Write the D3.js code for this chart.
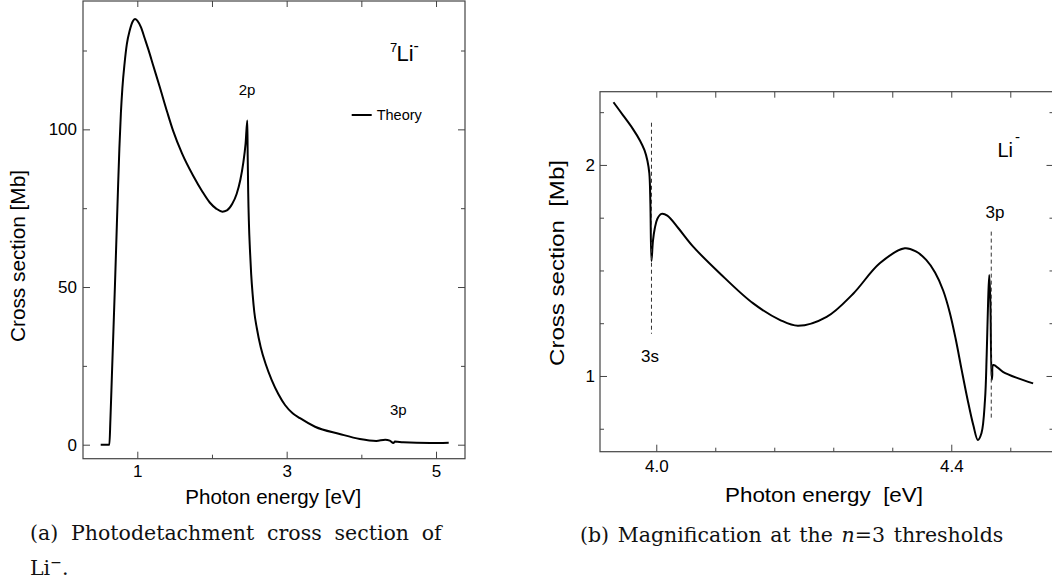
<!DOCTYPE html>
<html>
<head>
<meta charset="utf-8">
<script src="https://cdn.jsdelivr.net/npm/d3@7"></script>
<style>
  body { margin: 0; background: #fff; }
  svg { display: block; }
</style>
</head>
<body>
<div id="chart"></div>
<script>
// (a) full photodetachment cross section of 7Li-
const leftEnergy = [0.51, 0.626, 0.64, 0.66, 0.68, 0.70, 0.72, 0.74, 0.76, 0.78, 0.80, 0.83, 0.86, 0.90, 0.94, 0.969, 1.0, 1.05, 1.10, 1.15, 1.21, 1.30, 1.40, 1.48, 1.60, 1.75, 1.87, 1.97, 2.06, 2.14, 2.20, 2.27, 2.33, 2.38, 2.42, 2.45, 2.473, 2.478, 2.485, 2.495, 2.508, 2.525, 2.545, 2.567, 2.60, 2.652, 2.72, 2.80, 2.89, 2.978, 3.08, 3.179, 3.38, 3.71, 3.98, 4.20, 4.32, 4.38, 4.43, 4.45, 4.56, 4.92, 5.17];
const leftSigma  = [0, 0, 8, 22, 36, 50, 65, 80, 94, 105, 113, 121, 127, 131.5, 134.3, 135, 134.5, 132.3, 128.8, 125.2, 120.5, 113.5, 105.5, 99.5, 92.3, 85.2, 80.3, 76.8, 74.8, 73.9, 74.3, 76.3, 79.5, 84, 89.5, 95.5, 102.8, 92, 80, 70, 62, 54, 47.5, 42, 37, 31, 25.5, 20.5, 16, 12.6, 10, 8.4, 5.7, 3.4, 1.8, 1.2, 1.6, 1.3, 0.5, 1.0, 0.75, 0.5, 0.6];

// (b) magnification at the n=3 thresholds
const rightEnergy = [3.942, 3.955, 3.968, 3.978, 3.984, 3.988, 3.9906, 3.992, 3.9935, 3.9955, 3.998, 4.0015, 4.007, 4.015, 4.03, 4.05, 4.086, 4.131, 4.168, 4.192, 4.231, 4.267, 4.303, 4.337, 4.352, 4.366, 4.378, 4.389, 4.398, 4.406, 4.414, 4.422, 4.43, 4.436, 4.441, 4.4457, 4.448, 4.450, 4.4515, 4.453, 4.4548, 4.4555, 4.457, 4.47, 4.49, 4.511];
const rightSigma  = [2.297, 2.235, 2.172, 2.115, 2.07, 2.02, 1.96, 1.82, 1.545, 1.64, 1.70, 1.745, 1.768, 1.76, 1.70, 1.613, 1.487, 1.345, 1.265, 1.238, 1.28, 1.39, 1.534, 1.605, 1.59, 1.55, 1.49, 1.405, 1.30, 1.175, 1.03, 0.89, 0.765, 0.697, 0.73, 0.886, 1.1, 1.36, 1.479, 1.35, 0.981, 1.0, 1.052, 1.02, 0.99, 0.965];

const leftXTicks = [1, 3, 5], leftXMinor = [2, 4];
const leftYTicks = [0, 50, 100], leftYMinor = [25, 75, 125];
const rightXTicks = [4.0, 4.4], rightXMinor = [4.08, 4.16, 4.24, 4.32, 4.48];
const rightYTicks = [1, 2], rightYMinor = [0.75, 1.25, 1.5, 1.75, 2.25];

const thresholdNames = ["3s", "3p"];
const thresholdEnergy = [3.9935, 4.4542];
const thresholdTop = [2.2, 1.684];
const thresholdBottom = [1.2, 0.80];

const W = 1052, H = 585;
const sans = "'Liberation Sans', Arial, Helvetica, sans-serif";
const serif = "'DejaVu Serif', 'Liberation Serif', serif";
const frameColor = "#444";

const svg = d3.select("#chart").append("svg")
  .attr("width", W).attr("height", H)
  .style("font-family", sans);

function panel(o) {
  const x = d3.scaleLinear().domain(o.xDomain).range([o.left, o.right]);
  const y = d3.scaleLinear().domain(o.yDomain).range([o.bottom, o.top]);
  const g = svg.append("g");

  const style = sel => {
    sel.select(".domain").remove();
    sel.selectAll("line").attr("stroke", frameColor).attr("stroke-width", 1);
    sel.selectAll("text").attr("fill", "#000").style("font-family", sans).style("font-size", o.tickFont + "px");
  };

  // bottom
  g.append("g").attr("transform", `translate(0,${o.bottom})`)
    .call(d3.axisBottom(x).tickValues(o.xTicks).tickSize(-7).tickPadding(o.xPad).tickFormat(o.xFormat)).call(style);
  g.append("g").attr("transform", `translate(0,${o.bottom})`)
    .call(d3.axisBottom(x).tickValues(o.xMinor).tickSize(-4).tickFormat("")).call(style);
  // top
  g.append("g").attr("transform", `translate(0,${o.top})`)
    .call(d3.axisTop(x).tickValues(o.xTicks.concat(o.xMinor)).tickSize(-6).tickFormat("")).call(style);
  // left
  g.append("g").attr("transform", `translate(${o.left},0)`)
    .call(d3.axisLeft(y).tickValues(o.yTicks).tickSize(-7).tickPadding(o.yPad).tickFormat(d3.format("d"))).call(style);
  g.append("g").attr("transform", `translate(${o.left},0)`)
    .call(d3.axisLeft(y).tickValues(o.yMinor).tickSize(-4).tickFormat("")).call(style);
  // right
  g.append("g").attr("transform", `translate(${o.right},0)`)
    .call(d3.axisRight(y).tickValues(o.yTicks).tickSize(-7).tickFormat("")).call(style);
  g.append("g").attr("transform", `translate(${o.right},0)`)
    .call(d3.axisRight(y).tickValues(o.yMinor).tickSize(-4).tickFormat("")).call(style);

  g.append("rect")
    .attr("x", o.left).attr("y", o.top)
    .attr("width", o.right - o.left).attr("height", o.bottom - o.top)
    .attr("fill", "none").attr("stroke", frameColor).attr("stroke-width", 1.2);

  const line = d3.line().x(d => x(d[0])).y(d => y(d[1])).curve(o.curve);
  g.append("path")
    .datum(d3.zip(o.energy, o.sigma))
    .attr("d", line)
    .attr("fill", "none").attr("stroke", "#000").attr("stroke-width", 2)
    .attr("stroke-linejoin", "round");

  return { g, x, y };
}

// ---- panel (a)
const A = panel({
  left: 83, right: 465, top: 1, bottom: 458.7,
  xDomain: [0.2729, 5.388], yDomain: [-4.44, 140.7],
  xTicks: leftXTicks, xMinor: leftXMinor, yTicks: leftYTicks, yMinor: leftYMinor,
  xFormat: d3.format("d"), xPad: 6, yPad: 6, tickFont: 17,
  energy: leftEnergy, sigma: leftSigma, curve: d3.curveMonotoneX
});

A.g.append("text").attr("x", 273.3).attr("y", 504).attr("text-anchor", "middle")
  .attr("textLength", 176).attr("lengthAdjust", "spacingAndGlyphs")
  .style("font-size", "20px").text("Photon energy [eV]");
A.g.append("text").attr("transform", "translate(25,256) rotate(-90)").attr("text-anchor", "middle")
  .attr("textLength", 172).attr("lengthAdjust", "spacingAndGlyphs")
  .style("font-size", "20px").text("Cross section [Mb]");

A.g.append("text").attr("x", A.x(2.47)).attr("y", 95).attr("text-anchor", "middle")
  .style("font-size", "15px").text("2p");
A.g.append("text").attr("x", 398.3).attr("y", 415).attr("text-anchor", "middle")
  .style("font-size", "15px").text("3p");

A.g.append("text").attr("x", 390).attr("y", 51.5).style("font-size", "13px").text("7");
A.g.append("text").attr("x", 396.5).attr("y", 61).style("font-size", "22px").text("Li");
A.g.append("text").attr("x", 413.5).attr("y", 51).style("font-size", "16px").text("-");

A.g.append("line").attr("x1", 351.7).attr("x2", 371.7).attr("y1", 115).attr("y2", 115)
  .attr("stroke", "#000").attr("stroke-width", 2);
A.g.append("text").attr("x", 376.7).attr("y", 120).style("font-size", "14.5px").text("Theory");

// ---- panel (b)
const B = panel({
  left: 600, right: 1053.5, top: 91.7, bottom: 451.7,
  xDomain: [3.9237, 4.5386], yDomain: [0.6412, 2.347],
  xTicks: rightXTicks, xMinor: rightXMinor, yTicks: rightYTicks, yMinor: rightYMinor,
  xFormat: d3.format(".1f"), xPad: 8, yPad: 5, tickFont: 17,
  energy: rightEnergy, sigma: rightSigma, curve: d3.curveCatmullRom.alpha(0.5)
});

B.g.selectAll(".threshold")
  .data(thresholdNames)
  .enter().append("line")
  .attr("class", "threshold")
  .attr("x1", (d, i) => B.x(thresholdEnergy[i])).attr("x2", (d, i) => B.x(thresholdEnergy[i]))
  .attr("y1", (d, i) => B.y(thresholdTop[i])).attr("y2", (d, i) => B.y(thresholdBottom[i]))
  .attr("stroke", "#333").attr("stroke-width", 1).attr("stroke-dasharray", "4,3");

B.g.append("text").attr("x", 650).attr("y", 362).attr("text-anchor", "middle")
  .style("font-size", "17px").text(thresholdNames[0]);
B.g.append("text").attr("x", 995).attr("y", 218).attr("text-anchor", "middle")
  .style("font-size", "17px").text(thresholdNames[1]);

B.g.append("text").attr("x", 997.5).attr("y", 156.7).style("font-size", "20px").text("Li");
B.g.append("text").attr("x", 1015).attr("y", 142).style("font-size", "15px").text("-");

B.g.append("text").attr("x", 824).attr("y", 501.7).attr("text-anchor", "middle")
  .attr("textLength", 198).attr("lengthAdjust", "spacingAndGlyphs")
  .style("font-size", "21px").style("white-space", "pre").text("Photon energy  [eV]");
B.g.append("text").attr("transform", "translate(564,263) rotate(-90)").attr("text-anchor", "middle")
  .attr("textLength", 206).attr("lengthAdjust", "spacingAndGlyphs")
  .style("font-size", "21px").style("white-space", "pre").text("Cross section  [Mb]");

// ---- captions (justified by stretching word spaces)
const cap = svg.append("g").style("font-family", serif).style("font-size", "20.5px").attr("fill", "#111");

function fitWidth(t, target, spaces) {
  const w = t.node().getComputedTextLength();
  if (w < target) t.attr("word-spacing", (target - w) / spaces);
  else t.attr("textLength", target).attr("lengthAdjust", "spacingAndGlyphs");
}

const capA = cap.append("text").attr("x", 30).attr("y", 540)
  .text("(a) Photodetachment cross section of");
fitWidth(capA, 411.7, 4);

const li = cap.append("text").attr("x", 30).attr("y", 575);
li.append("tspan").text("Li");
li.append("tspan").attr("dy", -8).style("font-size", "14px").text("\u2212");
li.append("tspan").attr("dy", 8).text(".");

const capB = cap.append("text").attr("x", 580).attr("y", 541.7);
capB.append("tspan").text("(b) Magnification at the ");
capB.append("tspan").style("font-style", "italic").text("n");
capB.append("tspan").text("=3 thresholds");
fitWidth(capB, 423.3, 5);
</script>
</body>
</html>
